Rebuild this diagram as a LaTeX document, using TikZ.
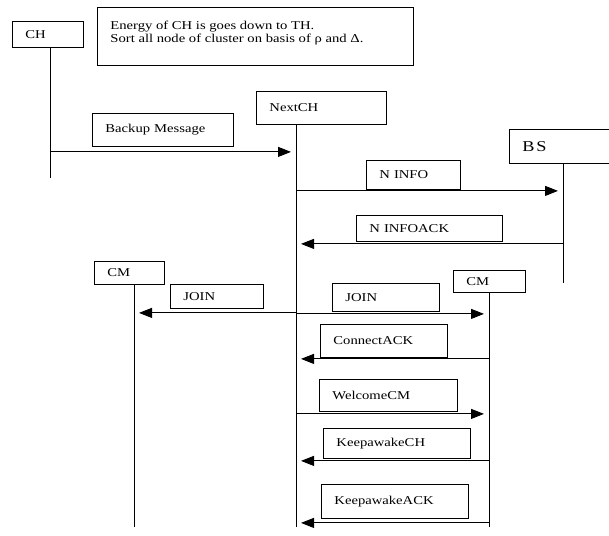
\documentclass[tikz,border=0pt]{standalone}
\usepackage{fontspec}
\setmainfont{Liberation Serif}[FakeStretch=1.22]
\usepackage{tikz}
\usetikzlibrary{arrows.meta, calc}
\tikzset{
  lbl/.style={rectangle, draw, line width=0.9pt, anchor=north west, align=left,
    inner xsep=13pt, inner ysep=0pt, font=\fontsize{12}{13}\selectfont},
  life/.style={line width=1pt},
  msg/.style={line width=1pt, -{Triangle[length=13pt,width=10pt]}, shorten >=5pt},
}
\begin{document}
\begin{tikzpicture}[x=1pt, y=-1pt]
\useasboundingbox[fill=white] (0,0) rectangle (609,535);

% actors
\node[lbl, text width=45, minimum height=26] (ch) at (12,21) {CH};
\node[lbl, text width=104, minimum height=33] (nextch) at (256,91) {NextCH};
\node[lbl, text width=90, minimum height=34, font=\fontsize{15}{16}\selectfont\addfontfeature{LetterSpace=12}] (bs) at (509,129) {BS};
\node[lbl, text width=44, minimum height=23] (cmleft) at (94,261) {CM};
\node[lbl, text width=46, minimum height=22] (cmright) at (453,270) {CM};

% note
\node[lbl] (note) at (97,7)
  {\parbox[t][58pt][t]{290pt}{\rule{0pt}{22pt}Energy of CH is goes down to TH.\\
   Sort all node of cluster on basis of ρ and Δ.}};

% lifelines
\coordinate (ch-end) at (50,178);
\coordinate (nextch-end) at (296,527);
\coordinate (bs-end) at (563,283);
\coordinate (cmleft-end) at (134,527);
\coordinate (cmright-end) at (489,527);
\draw[life] (ch.south -| ch-end) -- (ch-end);
\draw[life] (nextch.south -| nextch-end) -- (nextch-end);
\draw[life] (bs.south -| bs-end) -- (bs-end);
\draw[life] (cmleft.south -| cmleft-end) -- (cmleft-end);
\draw[life] (cmright.south -| cmright-end) -- (cmright-end);

% message labels
\node[lbl, text width=115, minimum height=33] (backup) at (92,113) {Backup Message};
\node[lbl, text width=68, minimum height=29] (ninfo) at (366,160) {N INFO};
\node[lbl, text width=120, minimum height=26] (ninfoack) at (356,215) {N INFOACK};
\node[lbl, text width=67, minimum height=24] (joinleft) at (170,284) {JOIN};
\node[lbl, text width=81, minimum height=28] (joinright) at (332,283) {JOIN};
\node[lbl, text width=101, minimum height=33] (connack) at (320,324) {ConnectACK};
\node[lbl, text width=112, minimum height=32] (welcome) at (319,379) {WelcomeCM};
\node[lbl, text width=121, minimum height=30] (keepch) at (323,428) {KeepawakeCH};
\node[lbl, text width=121, minimum height=34] (keepack) at (321,484) {KeepawakeACK};

% messages
\draw[msg] ($(ch-end |- backup.south)+(0,5)$) -- ($(nextch-end |- backup.south)+(0,5)$);
\draw[msg] ($(nextch-end |- ninfo.south)+(0,1)$) -- ($(bs-end |- ninfo.south)+(0,1)$);
\draw[msg] ($(bs-end |- ninfoack.south)+(0,2)$) -- ($(nextch-end |- ninfoack.south)+(0,2)$);
\draw[msg] ($(nextch-end |- joinleft.south)+(0,4)$) -- ($(cmleft-end |- joinleft.south)+(0,4)$);
\draw[msg] ($(nextch-end |- joinright.south)+(0,2)$) -- ($(cmright-end |- joinright.south)+(0,2)$);
\draw[msg] ($(cmright-end |- connack.south)+(0,1)$) -- ($(nextch-end |- connack.south)+(0,1)$);
\draw[msg] ($(nextch-end |- welcome.south)+(0,2)$) -- ($(cmright-end |- welcome.south)+(0,2)$);
\draw[msg] ($(cmright-end |- keepch.south)+(0,2)$) -- ($(nextch-end |- keepch.south)+(0,2)$);
\draw[msg] ($(cmright-end |- keepack.south)+(0,4)$) -- ($(nextch-end |- keepack.south)+(0,4)$);

\end{tikzpicture}
\end{document}
